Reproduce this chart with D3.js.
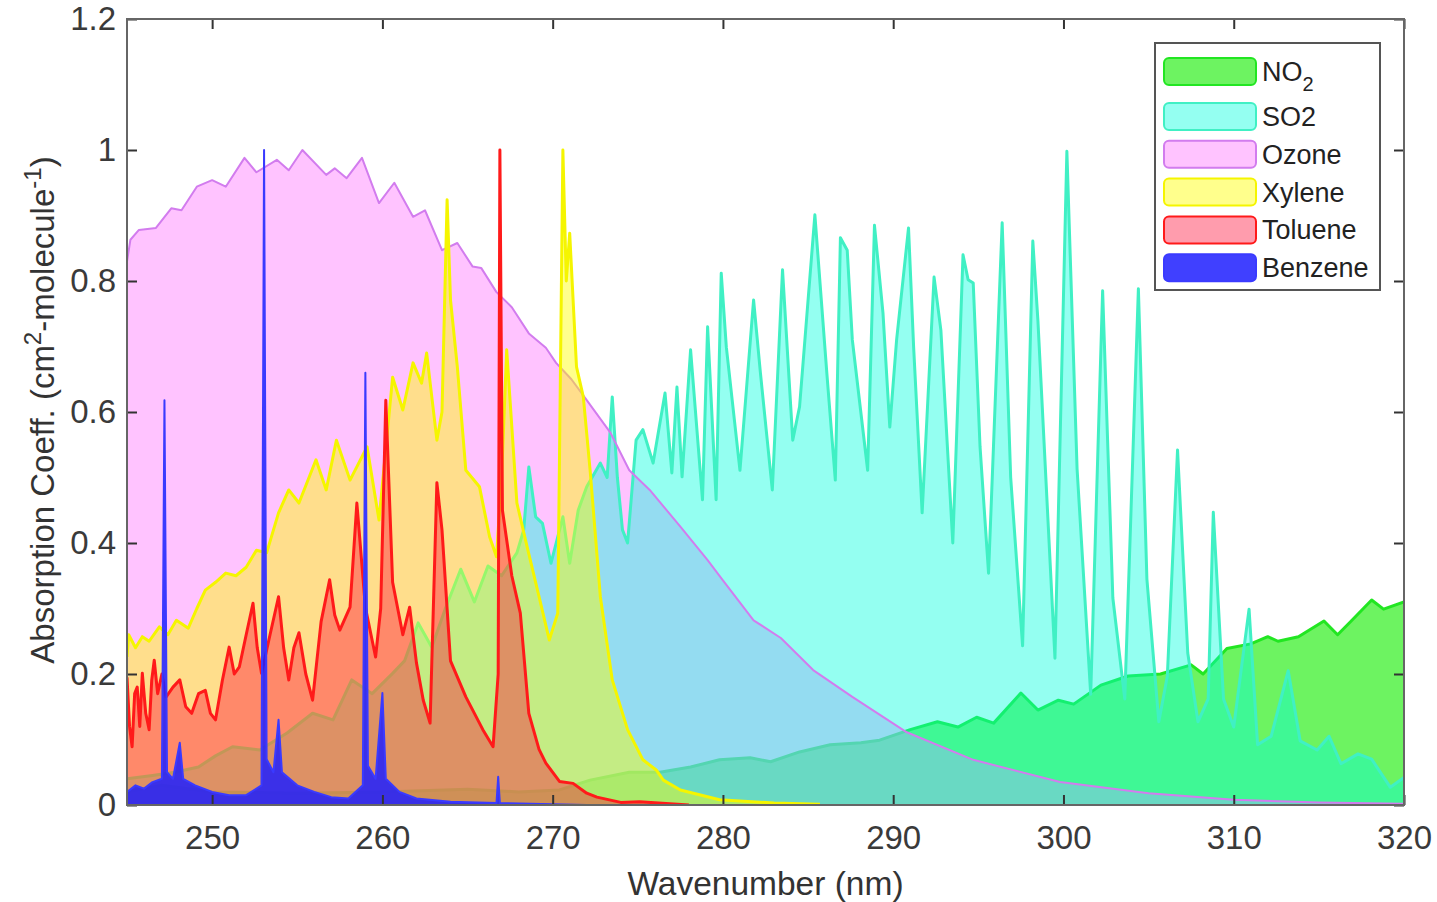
<!DOCTYPE html>
<html>
<head>
<meta charset="utf-8">
<script src="https://cdnjs.cloudflare.com/ajax/libs/d3/7.8.5/d3.min.js"></script>
<style>
body { margin: 0; background: #fff; }
text { font-family: "Liberation Sans", Arial, sans-serif; fill: #333; }
</style>
</head>
<body>
<script>
var width = 1437, height = 902;

// values: [wavelength nm, absorption coeff]
var xTicks = [250, 260, 270, 280, 290, 300, 310, 320];
var yTicks = [0, 0.2, 0.4, 0.6, 0.8, 1, 1.2];
var legendNames = ["NO2", "SO2", "Ozone", "Xylene", "Toluene", "Benzene"];

var no2 = [[245,0.02],[247,0.03],[250,0.02],[255,0.018],[260,0.02],[265,0.024],[268,0.02],[270.4,0.023],[272.2,0.038],
  [274.5,0.05],[276.3,0.05],[278.1,0.058],[279.8,0.069],[281.6,0.072],[282.8,0.066],[284.5,0.081],[286.3,0.092],
  [288.1,0.095],[289.2,0.099],[291,0.115],[292.6,0.127],[293.8,0.119],[294.9,0.134],[295.9,0.125],[297.5,0.171],
  [298.5,0.145],[299.7,0.16],[300.6,0.154],[302.2,0.183],[303.8,0.197],[305.7,0.2],[307.5,0.214],[308.2,0.2],
  [309.6,0.239],[311,0.246],[312,0.257],[312.6,0.25],[313.8,0.257],[315.3,0.281],[316.1,0.26],[316.9,0.281],
  [318.1,0.313],[318.8,0.299],[320,0.31]];

var so2 = [[245,0.04],[246.5,0.045],[247.8,0.05],[249.2,0.058],[250.2,0.075],[251.2,0.089],[252.8,0.084],[254.4,0.11],
  [255.9,0.14],[257.1,0.13],[258.2,0.191],[259.4,0.17],[260.6,0.201],[261.3,0.22],[262.1,0.278],[262.9,0.241],
  [263.7,0.3],[264.6,0.36],[265.4,0.31],[266.2,0.365],[267,0.35],[267.9,0.385],[268.3,0.42],[268.6,0.516],[269,0.44],
  [269.4,0.43],[269.9,0.369],[270.6,0.44],[271,0.369],[271.5,0.45],[272,0.486],[272.8,0.522],[273.2,0.5],[273.5,0.623],
  [273.8,0.5],[274.1,0.42],[274.4,0.4],[274.9,0.557],[275.3,0.573],[275.9,0.522],[276.6,0.629],[277,0.507],[277.3,0.638],
  [277.6,0.501],[278.1,0.695],[278.8,0.466],[279.1,0.73],[279.6,0.466],[279.9,0.812],[280.2,0.699],[281,0.511],
  [281.8,0.771],[282.2,0.66],[282.9,0.481],[283.5,0.817],[284.1,0.557],[284.5,0.608],[285.4,0.901],[286.1,0.66],
  [286.6,0.496],[286.9,0.866],[287.3,0.847],[287.6,0.71],[288.5,0.511],[288.9,0.885],[289.4,0.751],[289.8,0.577],
  [290.2,0.71],[290.9,0.881],[291.2,0.699],[291.7,0.446],[292.4,0.806],[292.8,0.725],[293.5,0.4],[294.1,0.84],
  [294.4,0.802],[294.7,0.797],[295.1,0.547],[295.6,0.354],[296.4,0.889],[296.9,0.5],[297.6,0.243],[298.2,0.861],
  [298.5,0.739],[299.5,0.224],[300.2,0.998],[300.8,0.513],[301.6,0.169],[302.3,0.785],[302.9,0.316],[303.6,0.162],
  [304.4,0.788],[304.9,0.345],[305.6,0.127],[306.1,0.197],[306.7,0.542],[307.3,0.232],[307.9,0.127],[308.5,0.162],
  [308.8,0.447],[309.4,0.162],[310,0.119],[310.9,0.299],[311.4,0.092],[312.2,0.105],[313.2,0.205],[313.9,0.098],
  [314.9,0.084],[315.6,0.105],[316.3,0.063],[317.3,0.078],[318.1,0.07],[319.2,0.027],[320,0.042]];

var ozone = [[245,0.83],[245.2,0.863],[245.7,0.878],[246.7,0.881],[247.6,0.911],[248.2,0.908],[249.1,0.944],[250,0.954],
  [250.8,0.944],[251.9,0.988],[252.6,0.966],[253.8,0.985],[254.5,0.969],[255.3,1.0],[256.7,0.962],[257.2,0.972],
  [257.9,0.957],[258.8,0.988],[259.8,0.919],[260.7,0.95],[261.8,0.898],[262.5,0.908],[263.5,0.847],[264.4,0.858],
  [265.3,0.822],[265.8,0.82],[266.7,0.783],[267.6,0.76],[268.6,0.72],[269.6,0.698],[270.2,0.675],[271.1,0.65],
  [272,0.618],[273.4,0.568],[274.5,0.511],[275.7,0.481],[277.5,0.425],[279.1,0.374],[280,0.343],[281.8,0.282],
  [283.4,0.255],[285.3,0.206],[287.6,0.165],[290.8,0.111],[294.7,0.069],[299.8,0.035],[305,0.018],[310,0.008],
  [315,0.004],[320,0.002]];

var xylene = [[245,0.226],[245.1,0.26],[245.5,0.24],[245.9,0.257],[246.3,0.25],[246.9,0.272],[247.4,0.26],[247.9,0.282],
  [248.6,0.27],[249.1,0.3],[249.6,0.328],[250.2,0.34],[250.8,0.354],[251.4,0.35],[252,0.363],[252.6,0.389],[253.2,0.385],
  [253.9,0.446],[254.5,0.481],[255.1,0.461],[256.1,0.527],[256.7,0.481],[257.3,0.557],[258.1,0.496],[259.1,0.547],
  [259.8,0.435],[260.6,0.653],[261.2,0.603],[261.8,0.675],[262.3,0.644],[262.6,0.69],[263.2,0.557],[263.5,0.6],
  [263.8,0.924],[264,0.771],[264.4,0.669],[264.9,0.511],[265.7,0.486],[266.3,0.409],[266.7,0.379],[267,0.5],
  [267.3,0.695],[267.9,0.461],[268.5,0.394],[269.2,0.318],[269.8,0.252],[270.3,0.293],[270.6,1.0],[270.8,0.8],
  [271,0.873],[271.4,0.669],[271.8,0.623],[272.2,0.511],[272.8,0.318],[273.5,0.191],[274.4,0.115],[275.3,0.069],
  [276.1,0.053],[276.5,0.038],[277.5,0.023],[279.8,0.008],[283,0.003],[285.7,0.001]];

var toluene = [[245,0.195],[245.15,0.12],[245.3,0.089],[245.45,0.17],[245.6,0.18],[245.75,0.12],[245.9,0.201],
  [246.1,0.14],[246.3,0.115],[246.45,0.19],[246.6,0.221],[246.8,0.17],[247.05,0.2],[247.3,0.165],[247.7,0.18],
  [248.1,0.191],[248.45,0.15],[248.8,0.14],[249.2,0.17],[249.6,0.175],[249.9,0.14],[250.2,0.13],[250.6,0.19],
  [251,0.241],[251.3,0.2],[251.6,0.211],[252,0.26],[252.4,0.308],[252.65,0.24],[252.9,0.201],[253.4,0.26],
  [253.9,0.318],[254.2,0.24],[254.5,0.191],[254.8,0.24],[255.1,0.263],[255.5,0.2],[255.9,0.16],[256.4,0.28],
  [256.9,0.344],[257.2,0.29],[257.5,0.267],[258.1,0.302],[258.5,0.461],[259,0.302],[259.6,0.226],[259.9,0.3],
  [260.2,0.618],[260.6,0.34],[261.2,0.26],[261.6,0.302],[262,0.217],[262.4,0.16],[262.8,0.125],[263.2,0.492],
  [263.5,0.42],[264,0.22],[264.9,0.165],[265.9,0.115],[266.5,0.089],[266.8,0.2],[266.9,1.0],[267.05,0.45],
  [267.6,0.35],[268.1,0.293],[268.6,0.14],[269.2,0.085],[269.6,0.064],[270.4,0.036],[271.2,0.033],[272,0.018],
  [272.6,0.012],[274,0.004],[275.1,0.005],[278,0]];

var benzene = [[245,0.02],[245.5,0.03],[246,0.025],[246.5,0.035],[247.05,0.04],[247.2,0.618],[247.35,0.05],[247.7,0.04],
  [248.1,0.095],[248.3,0.04],[249,0.03],[250,0.02],[251,0.015],[252,0.015],[252.9,0.03],[253.05,1.0],[253.2,0.07],
  [253.6,0.05],[253.9,0.13],[254.1,0.05],[255,0.03],[256,0.02],[257,0.012],[258,0.01],[258.85,0.03],[259,0.66],
  [259.15,0.06],[259.6,0.04],[260,0.171],[260.2,0.04],[261,0.02],[262,0.01],[264,0.005],[266.7,0.003],[266.8,0.043],
  [266.9,0.003],[270,0.001],[272,0]];

var styles = {
  NO2:     {fill: "rgb(20,235,0)",   op: 0.62, stroke: "#22e622", sw: 3},
  Ozone:   {fill: "rgb(255,135,255)",op: 0.5,  stroke: "#d27cee", sw: 2},
  SO2:     {fill: "rgb(0,255,222)",  op: 0.42, stroke: "#40f0c4", sw: 3},
  Xylene:  {fill: "rgb(255,255,0)",  op: 0.45, stroke: "#f5f500", sw: 3},
  Toluene: {fill: "rgb(255,20,60)",  op: 0.42, stroke: "#ff1a1a", sw: 3},
  Benzene: {fill: "rgb(30,30,255)",  op: 0.85, stroke: "#3a3aff", sw: 2}
};
var drawOrder = [["NO2", no2], ["Ozone", ozone], ["SO2", so2], ["Xylene", xylene], ["Toluene", toluene], ["Benzene", benzene]];

var mLeft = 127, mRight = 1404, mTop = 19, mBottom = 805;

var svg = d3.select("body").append("svg")
            .attr("width", width).attr("height", height);

var x = d3.scaleLinear().domain([245, 320]).range([mLeft, mRight]);
var y = d3.scaleLinear().domain([0, 1.2]).range([mBottom, mTop]);

svg.append("clipPath").attr("id", "plot")
   .append("rect").attr("x", mLeft).attr("y", mTop).attr("width", mRight - mLeft).attr("height", mBottom - mTop);

var area = d3.area().x(function(d){ return x(d[0]); }).y0(y(0)).y1(function(d){ return y(d[1]); });
var line = d3.line().x(function(d){ return x(d[0]); }).y(function(d){ return y(d[1]); });

var plot = svg.append("g").attr("clip-path", "url(#plot)");
function drawLine(name, data){
    var st = styles[name];
    plot.append("path").attr("d", line(data)).attr("fill", "none")
        .attr("stroke", st.stroke).attr("stroke-width", st.sw).attr("stroke-linejoin", "round");
}
drawOrder.forEach(function(s){
    var st = styles[s[0]];
    plot.append("path").attr("d", area(s[1])).attr("fill", st.fill).attr("fill-opacity", st.op);
    if (s[0] != "Ozone") drawLine(s[0], s[1]);
    // the ozone outline stays visible on top of the SO2 fill
    if (s[0] == "SO2") drawLine("Ozone", ozone);
});

// axes, ticks point inward like matlab
var tickColor = "#333";
var gx = svg.append("g").attr("transform", "translate(0," + mBottom + ")")
    .call(d3.axisBottom(x).tickValues(xTicks).tickSize(-10).tickPadding(21).tickFormat(d3.format("d")));
var gxt = svg.append("g").attr("transform", "translate(0," + mTop + ")")
    .call(d3.axisTop(x).tickValues(xTicks).tickSize(-10).tickFormat(""));
var gy = svg.append("g").attr("transform", "translate(" + mLeft + ",0)")
    .call(d3.axisLeft(y).tickValues(yTicks).tickSize(-10).tickPadding(11)
    .tickFormat(function(d){ return String(d); }));
var gyr = svg.append("g").attr("transform", "translate(" + mRight + ",0)")
    .call(d3.axisRight(y).tickValues(yTicks).tickSize(-10).tickFormat(""));

[gx, gxt, gy, gyr].forEach(function(g){
    g.select(".domain").remove();
    g.selectAll("line").attr("stroke", tickColor).attr("stroke-width", 2);
    g.selectAll("text").style("font-size", "33px").style("fill", "#3a3a3a")
     .style("font-family", "'Liberation Sans', Arial, sans-serif");
});

svg.append("rect").attr("x", mLeft).attr("y", mTop).attr("width", mRight - mLeft).attr("height", mBottom - mTop)
   .attr("fill", "none").attr("stroke", "#666").attr("stroke-width", 2);

svg.append("text").attr("x", (mLeft + mRight) / 2).attr("y", 895).attr("text-anchor", "middle")
   .style("font-size", "33.5px").text("Wavenumber (nm)");

var ylab = svg.append("text").attr("transform", "translate(54,410) rotate(-90)")
   .attr("text-anchor", "middle").style("font-size", "33px");
ylab.append("tspan").text("Absorption Coeff. (cm");
ylab.append("tspan").attr("baseline-shift", "super").style("font-size", "24px").text("2");
ylab.append("tspan").text("-molecule");
ylab.append("tspan").attr("baseline-shift", "super").style("font-size", "24px").text("-1");
ylab.append("tspan").text(")");

// legend
var lg = svg.append("g");
lg.append("rect").attr("x", 1155).attr("y", 43).attr("width", 225).attr("height", 247)
  .attr("fill", "#fff").attr("stroke", "#555").attr("stroke-width", 2);
var rowY = function(i){ return i == 0 ? 71 : 116 + (i - 1) * 37.8; };
var legend = lg.selectAll(".legends").data(legendNames).enter().append("g").classed("legends", true)
    .attr("transform", function(d, i){ return "translate(0," + rowY(i) + ")"; });
legend.append("rect").attr("x", 1164).attr("y", -13).attr("width", 92).attr("height", 27).attr("rx", 5)
    .attr("fill", function(d){ return styles[d].fill; })
    .attr("fill-opacity", function(d){ return styles[d].op; })
    .attr("stroke", function(d){ return styles[d].stroke; }).attr("stroke-width", 2);
legend.append("text").attr("x", 1262).attr("y", 10).style("font-size", "27px").style("fill", "#222")
    .each(function(d){
        var t = d3.select(this);
        if (d == "NO2") {
            t.append("tspan").text("NO");
            t.append("tspan").attr("dy", 10).style("font-size", "20px").text("2");
        } else {
            t.text(d);
        }
    });
</script>
</body>
</html>
